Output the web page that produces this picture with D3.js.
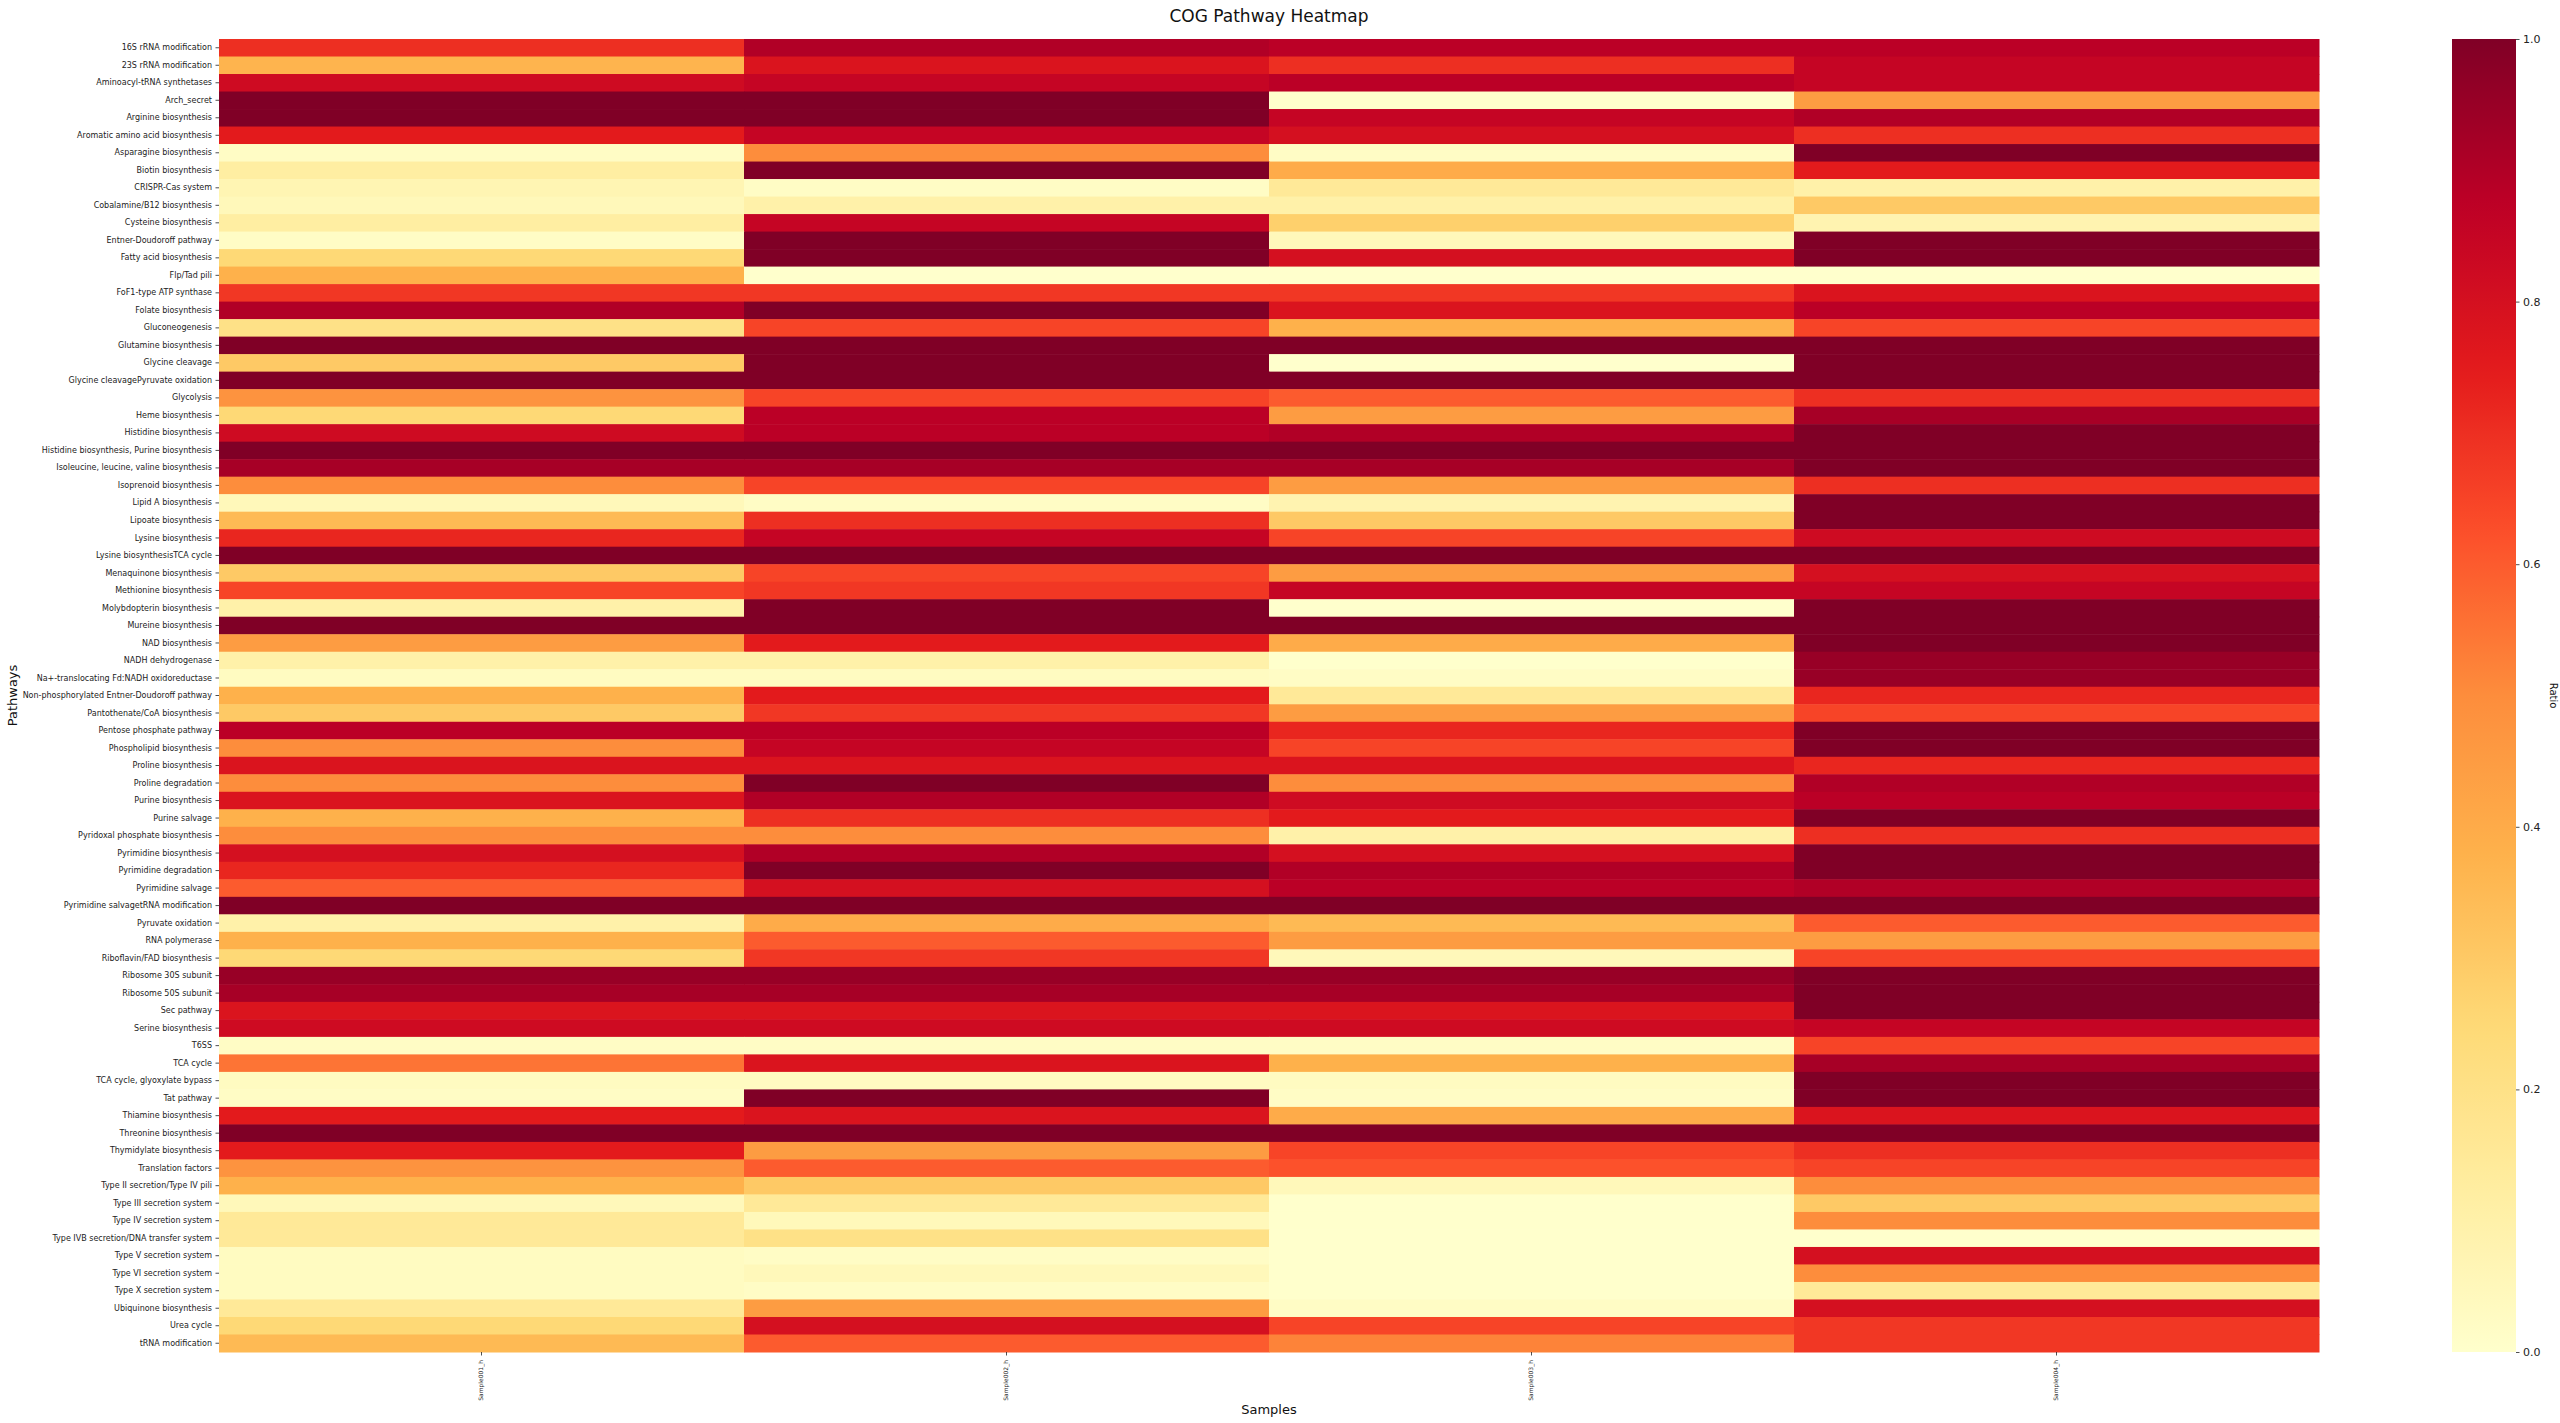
<!DOCTYPE html>
<html><head><meta charset="utf-8">
<script src="https://cdn.jsdelivr.net/npm/d3@7"></script>
<style>body{margin:0;background:#fff;} svg{display:block;font-family:"DejaVu Sans",sans-serif;}</style>
</head><body>
<svg id="c" width="2560" height="1423"></svg>
<script>
const samples = ["Sample001_h","Sample002_h","Sample003_h","Sample004_h"];
const pathways = ["16S rRNA modification","23S rRNA modification","Aminoacyl-tRNA synthetases","Arch_secret","Arginine biosynthesis","Aromatic amino acid biosynthesis","Asparagine biosynthesis","Biotin biosynthesis","CRISPR-Cas system","Cobalamine/B12 biosynthesis","Cysteine biosynthesis","Entner-Doudoroff pathway","Fatty acid biosynthesis","Flp/Tad pili","FoF1-type ATP synthase","Folate biosynthesis","Gluconeogenesis","Glutamine biosynthesis","Glycine cleavage","Glycine cleavagePyruvate oxidation","Glycolysis","Heme biosynthesis","Histidine biosynthesis","Histidine biosynthesis, Purine biosynthesis","Isoleucine, leucine, valine biosynthesis","Isoprenoid biosynthesis","Lipid A biosynthesis","Lipoate biosynthesis","Lysine biosynthesis","Lysine biosynthesisTCA cycle","Menaquinone biosynthesis","Methionine biosynthesis","Molybdopterin biosynthesis","Mureine biosynthesis","NAD biosynthesis","NADH dehydrogenase","Na+-translocating Fd:NADH oxidoreductase","Non-phosphorylated Entner-Doudoroff pathway","Pantothenate/CoA biosynthesis","Pentose phosphate pathway","Phospholipid biosynthesis","Proline biosynthesis","Proline degradation","Purine biosynthesis","Purine salvage","Pyridoxal phosphate biosynthesis","Pyrimidine biosynthesis","Pyrimidine degradation","Pyrimidine salvage","Pyrimidine salvagetRNA modification","Pyruvate oxidation","RNA polymerase","Riboflavin/FAD biosynthesis","Ribosome 30S subunit","Ribosome 50S subunit","Sec pathway","Serine biosynthesis","T6SS","TCA cycle","TCA cycle, glyoxylate bypass","Tat pathway","Thiamine biosynthesis","Threonine biosynthesis","Thymidylate biosynthesis","Translation factors","Type II secretion/Type IV pili","Type III secretion system","Type IV secretion system","Type IVB secretion/DNA transfer system","Type V secretion system","Type VI secretion system","Type X secretion system","Ubiquinone biosynthesis","Urea cycle","tRNA modification"];

// ratio per pathway, one array per sample
const sample001 = [0.70,0.37,0.82,1.00,1.00,0.75,0.02,0.12,0.07,0.05,0.12,0.02,0.25,0.38,0.68,0.90,0.20,1.00,0.30,1.00,0.48,0.25,0.82,1.00,0.92,0.50,0.05,0.35,0.72,1.00,0.30,0.65,0.10,1.00,0.45,0.10,0.03,0.38,0.30,0.88,0.50,0.78,0.50,0.78,0.38,0.50,0.80,0.72,0.60,1.00,0.10,0.38,0.25,0.95,0.92,0.78,0.82,0.02,0.55,0.03,0.02,0.75,1.00,0.75,0.48,0.38,0.05,0.15,0.15,0.03,0.03,0.03,0.15,0.25,0.35];
const sample002 = [0.90,0.78,0.85,1.00,1.00,0.85,0.50,1.00,0.02,0.10,0.85,1.00,1.00,0.00,0.68,1.00,0.65,1.00,1.00,1.00,0.65,0.88,0.88,1.00,0.92,0.65,0.02,0.70,0.85,1.00,0.65,0.68,1.00,1.00,0.75,0.10,0.03,0.75,0.68,0.88,0.85,0.78,1.00,0.90,0.70,0.50,0.90,1.00,0.80,1.00,0.40,0.60,0.68,0.95,0.92,0.78,0.82,0.02,0.78,0.03,1.00,0.78,1.00,0.45,0.60,0.30,0.15,0.05,0.20,0.02,0.05,0.02,0.45,0.80,0.60];
const sample003 = [0.88,0.70,0.88,0.00,0.85,0.80,0.02,0.40,0.15,0.10,0.28,0.05,0.80,0.00,0.68,0.78,0.38,1.00,0.00,1.00,0.60,0.45,0.90,1.00,0.92,0.45,0.08,0.30,0.65,1.00,0.45,0.85,0.00,1.00,0.40,0.00,0.02,0.15,0.45,0.72,0.65,0.78,0.50,0.82,0.75,0.10,0.80,0.90,0.88,1.00,0.35,0.45,0.05,0.95,0.92,0.78,0.82,0.02,0.38,0.03,0.02,0.40,1.00,0.65,0.62,0.05,0.00,0.00,0.00,0.00,0.00,0.00,0.02,0.65,0.52];
const sample004 = [0.88,0.85,0.85,0.45,0.90,0.70,1.00,0.75,0.10,0.30,0.08,1.00,1.00,0.00,0.78,0.88,0.65,1.00,1.00,1.00,0.70,0.92,1.00,1.00,1.00,0.70,1.00,1.00,0.82,1.00,0.80,0.85,1.00,1.00,1.00,0.95,0.95,0.72,0.65,1.00,1.00,0.72,0.90,0.88,1.00,0.70,1.00,1.00,0.90,1.00,0.60,0.45,0.65,1.00,1.00,1.00,0.85,0.65,0.92,1.00,1.00,0.78,1.00,0.70,0.65,0.50,0.30,0.50,0.00,0.80,0.50,0.15,0.80,0.68,0.68];
const colorTicks = [0.0,0.2,0.4,0.6,0.8,1.0];

const seriesBySample = [sample001, sample002, sample003, sample004];
const cells = [];
pathways.forEach((p,i)=>samples.forEach((s,j)=>cells.push({p,s,v:seriesBySample[j][i]})));

const svg = d3.select("#c");
const L=219, R=2319, T=39, B=1352;
const x = d3.scaleBand().domain(samples).range([L,R]);
const y = d3.scaleBand().domain(pathways).range([T,B]);
const ylorrd = ["#ffffcc","#ffeda0","#fed976","#feb24c","#fd8d3c","#fc4e2a","#e31a1c","#bd0026","#800026"];
const color = d3.scaleLinear().domain(d3.range(9).map(i=>i/8)).range(ylorrd).clamp(true);

svg.append("g").selectAll("rect").data(cells).join("rect")
  .attr("x",d=>x(d.s)).attr("y",d=>y(d.p))
  .attr("width",x.bandwidth()+0.5).attr("height",y.bandwidth()+0.5)
  .attr("fill",d=>color(d.v));

// y axis
const ya = svg.append("g").attr("transform",`translate(${L},0)`)
  .call(d3.axisLeft(y).tickSize(3.5).tickPadding(3.5));
ya.select(".domain").remove();
ya.selectAll("text").attr("font-size","8px").attr("fill","#222").attr("font-family","DejaVu Sans");
ya.selectAll("line").attr("stroke","#222").attr("stroke-width",0.8);

// x axis
const xa = svg.append("g").attr("transform",`translate(0,${B})`)
  .call(d3.axisBottom(x).tickSize(3.5).tickPadding(3.5));
xa.select(".domain").remove();
xa.selectAll("line").attr("stroke","#222").attr("stroke-width",0.8);
xa.selectAll("text").attr("font-size","6px").attr("fill","#222").attr("font-family","DejaVu Sans")
  .attr("transform","rotate(-90)").attr("text-anchor","end").attr("dy","0.32em")
  .attr("x",-8).attr("y",0);

// axis titles
svg.append("text").attr("x",(L+R)/2).attr("y",1414).attr("text-anchor","middle")
  .attr("font-size","13px").attr("fill","#111").text("Samples");
svg.append("text").attr("transform",`translate(17,${(T+B)/2}) rotate(-90)`).attr("text-anchor","middle")
  .attr("font-size","13px").attr("fill","#111").text("Pathways");
svg.append("text").attr("x",(L+R)/2).attr("y",22).attr("text-anchor","middle")
  .attr("font-size","17px").attr("fill","#111").text("COG Pathway Heatmap");

// colorbar
const cbX=2452, cbW=64;
const cy = d3.scaleLinear().domain([0,1]).range([B,T]);
const defs = svg.append("defs");
const grad = defs.append("linearGradient").attr("id","g").attr("x1",0).attr("y1",1).attr("x2",0).attr("y2",0);
d3.range(0,1.0001,0.02).forEach(t=>grad.append("stop").attr("offset",t).attr("stop-color",color(t)));
svg.append("rect").attr("x",cbX).attr("y",T).attr("width",cbW).attr("height",B-T).attr("fill","url(#g)");
const ca = svg.append("g").attr("transform",`translate(${cbX+cbW},0)`)
  .call(d3.axisRight(cy).tickValues(colorTicks).tickFormat(d3.format(".1f")).tickSize(3.5).tickPadding(3.5));
ca.select(".domain").remove();
ca.selectAll("line").attr("stroke","#222").attr("stroke-width",0.8);
ca.selectAll("text").attr("font-size","11px").attr("fill","#222").attr("font-family","DejaVu Sans");
svg.append("text").attr("transform",`translate(2550,${(T+B)/2}) rotate(90)`).attr("text-anchor","middle")
  .attr("font-size","10px").attr("fill","#111").text("Ratio");
</script>
</body></html>
